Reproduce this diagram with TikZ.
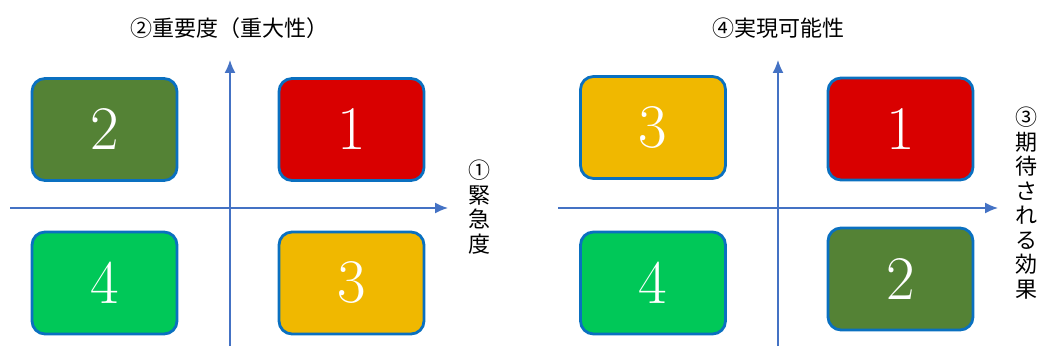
\documentclass[tikz,border=0pt]{standalone}
\usepackage{fontspec}
\newfontfamily\jp{Noto Sans CJK JP}
\usetikzlibrary{arrows.meta}
\definecolor{axisblue}{HTML}{4472C4}
\definecolor{edgeblue}{HTML}{0A70C0}
\definecolor{cred}{HTML}{D90000}
\definecolor{cdkgreen}{HTML}{548235}
\definecolor{cyellow}{HTML}{F0B800}
\definecolor{cgreen}{HTML}{00C858}
\tikzset{
  qbox/.style={draw=edgeblue, line width=2.8pt, rounded corners=13pt, minimum width=145pt, minimum height=102pt, inner sep=0pt, text=white, font=\fontsize{62}{62}\selectfont},
  axis/.style={draw=axisblue, line width=1.4pt, -{Latex[length=13pt,width=11pt]}},
  lab/.style={font=\jp\fontsize{22}{22}\selectfont, text=black, inner sep=0pt},
  vlab/.style={font=\jp\fontsize{22}{24.5}\selectfont, text=black, inner sep=0pt, align=center}
}
\begin{document}
\begin{tikzpicture}[x=1pt,y=-1pt]
\useasboundingbox (0,0) rectangle (1041,347);
% left panel
\coordinate (lxs) at (10,208);
\coordinate (lxe) at (448,208);
\coordinate (lys) at (230,346);
\coordinate (lye) at (230,60);
\draw[axis] (lxs) -- (lxe);
\draw[axis] (lys) -- (lye);
\node[qbox, fill=cdkgreen] (l2) at (104.5,129.5) {2};
\node[qbox, fill=cred] (l1) at (351.5,129.5) {1};
\node[qbox, fill=cgreen] (l4) at (104.5,283) {4};
\node[qbox, fill=cyellow] (l3) at (351.5,283) {3};
\node[lab] (ltop) at (229,28) {②重要度（重大性）};
\node[vlab] (lright) at (479,207) {①\\緊\\急\\度};
% right panel
\coordinate (rxs) at (558,208);
\coordinate (rxe) at (998,208);
\coordinate (rys) at (778,346);
\coordinate (rye) at (778,60);
\draw[axis] (rxs) -- (rxe);
\draw[axis] (rys) -- (rye);
\node[qbox, fill=cyellow] (r3) at (653,127.5) {3};
\node[qbox, fill=cred] (r1) at (900.5,129) {1};
\node[qbox, fill=cgreen] (r4) at (653,283) {4};
\node[qbox, fill=cdkgreen] (r2) at (900.5,279) {2};
\node[lab] (rtop) at (778,28) {④実現可能性};
\node[vlab] (rright) at (1026,203) {③\\期\\待\\さ\\れ\\る\\効\\果};
\end{tikzpicture}
\end{document}
